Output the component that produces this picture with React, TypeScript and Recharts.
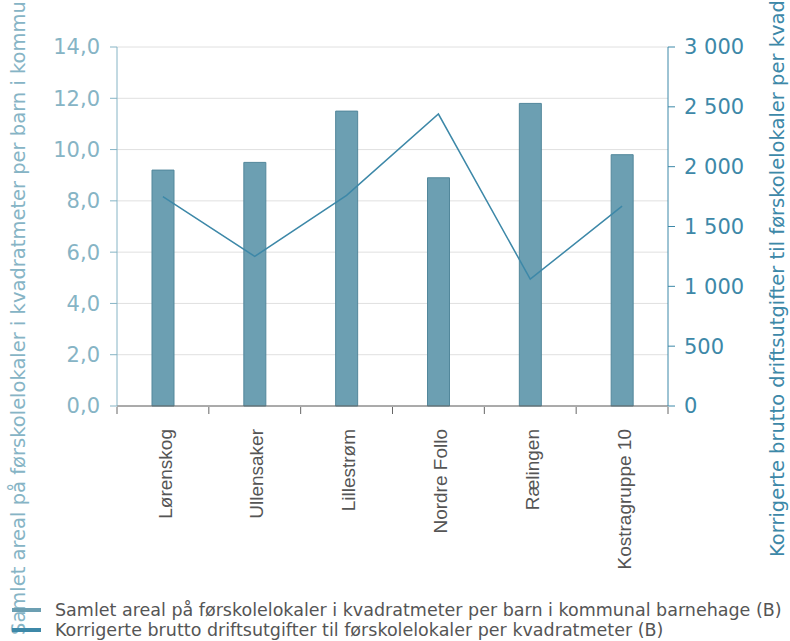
import { Bar, CartesianGrid, ComposedChart, Line, XAxis, YAxis } from "recharts"

const kommuner = ["Lørenskog", "Ullensaker", "Lillestrøm", "Nordre Follo", "Rælingen", "Kostragruppe 10"]
const arealPerBarn = [9.2, 9.5, 11.5, 8.9, 11.8, 9.8]
const utgifterPerKvm = [1750, 1250, 1760, 2440, 1060, 1670]
const venstreTicks = [0, 2, 4, 6, 8, 10, 12, 14]
const hoyreTicks = [0, 500, 1000, 1500, 2000, 2500, 3000]

const arealNavn = "Samlet areal på førskolelokaler i kvadratmeter per barn i kommunal barnehage (B)"
const utgiftNavn = "Korrigerte brutto driftsutgifter til førskolelokaler per kvadratmeter (B)"

const data = kommuner.map((navn, i) => ({
    navn,
    areal: arealPerBarn[i],
    utgift: utgifterPerKvm[i],
}))

const font = "'Liberation Sans', Arial, sans-serif"
const bredFont = "'DejaVu Sans', Verdana, sans-serif"
const barFarge = "#6c9fb2"
const linjeFarge = "#3d88a8"
const lysBla = "#86b4c5"
const aksGra = "#666"

// tick line sits on the category boundaries, label in the middle
const KommuneTick = ({ x, y, payload, index }: any) => {
    const halv = payload.offset ?? 0
    const siste = index === kommuner.length - 1
    return (
        <g>
            <line x1={x - halv} x2={x - halv} y1={y - 8} y2={y - 1} stroke={aksGra} />
            {siste && <line x1={x + halv} x2={x + halv} y1={y - 8} y2={y - 1} stroke={aksGra} />}
            <text
                x={x + 2}
                y={y + 14}
                transform={`rotate(-90 ${x + 2} ${y + 14})`}
                textAnchor="end"
                dy="0.35em"
                fill="#555"
                fontSize={19}
                fontFamily={font}
            >
                {payload.value}
            </text>
        </g>
    )
}

export default function App() {
    return (
        <div style={{ position: "fixed", left: 0, top: 0, width: 790, height: 641, background: "#fff" }}>
            <ComposedChart
                width={790}
                height={641}
                data={data}
                margin={{ top: 47, right: 0, left: 0, bottom: 0 }}
            >
                <CartesianGrid yAxisId="venstre" vertical={false} stroke="#e0e0e0" />
                <XAxis
                    dataKey="navn"
                    height={235}
                    stroke={aksGra}
                    tickLine={false}
                    tickSize={7}
                    interval={0}
                    tick={<KommuneTick />}
                />
                <YAxis
                    yAxisId="venstre"
                    orientation="left"
                    width={117}
                    domain={[0, 14]}
                    ticks={venstreTicks}
                    stroke={lysBla}
                    tickSize={7}
                    tickMargin={10}
                    tick={{ fill: lysBla, fontSize: 21, fontFamily: bredFont }}
                    tickFormatter={(v: number) => v.toFixed(1).replace(".", ",")}
                    label={{
                        content: () => (
                            <text
                                x={25}
                                y={635}
                                transform="rotate(-90 25 635)"
                                fill={lysBla}
                                fontSize={19.5}
                                fontFamily={bredFont}
                            >
                                {arealNavn}
                            </text>
                        ),
                    }}
                />
                <YAxis
                    yAxisId="hoyre"
                    orientation="right"
                    width={122}
                    domain={[0, 3000]}
                    ticks={hoyreTicks}
                    stroke={linjeFarge}
                    tickSize={7}
                    tickMargin={9}
                    tick={{ fill: linjeFarge, fontSize: 21, fontFamily: bredFont }}
                    tickFormatter={(v: number) => v.toLocaleString("en-US").replace(",", " ")}
                    label={{
                        content: () => (
                            <text
                                x={784}
                                y={557}
                                transform="rotate(-90 784 557)"
                                fill={linjeFarge}
                                fontSize={19.5}
                                fontFamily={bredFont}
                            >
                                {utgiftNavn}
                            </text>
                        ),
                    }}
                />
                <Bar
                    yAxisId="venstre"
                    dataKey="areal"
                    name={arealNavn}
                    fill={barFarge}
                    stroke="#52879b"
                    strokeWidth={1}
                    barSize={22}
                    isAnimationActive={false}
                />
                <Line
                    yAxisId="hoyre"
                    dataKey="utgift"
                    name={utgiftNavn}
                    type="linear"
                    stroke={linjeFarge}
                    strokeWidth={1.5}
                    dot={false}
                    isAnimationActive={false}
                />
            </ComposedChart>
            <div
                style={{
                    position: "absolute",
                    left: 12,
                    top: 600,
                    fontFamily: bredFont,
                    fontSize: 17.5,
                    lineHeight: "20px",
                    color: "#555",
                    whiteSpace: "nowrap",
                }}
            >
                {[
                    { navn: arealNavn, farge: barFarge },
                    { navn: utgiftNavn, farge: linjeFarge },
                ].map((s) => (
                    <div key={s.navn} style={{ display: "flex", alignItems: "center", height: 20 }}>
                        <span style={{ width: 29, height: 4, background: s.farge, marginRight: 14 }} />
                        <span>{s.navn}</span>
                    </div>
                ))}
            </div>
        </div>
    )
}
